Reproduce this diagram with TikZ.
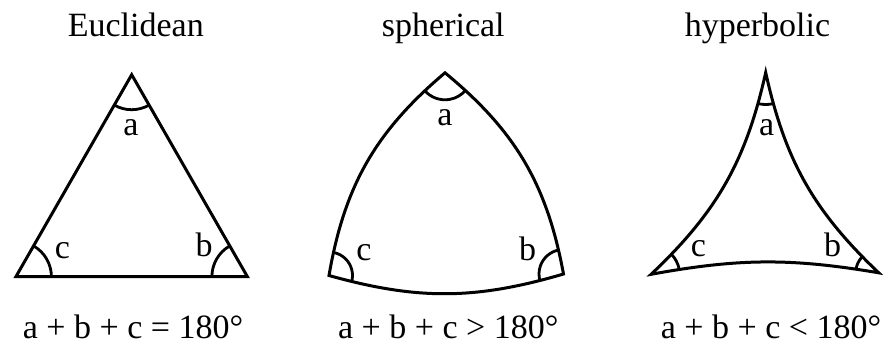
\documentclass[tikz,border=0pt]{standalone}
\usepackage{fontspec}
\setmainfont{Liberation Serif}
\begin{document}
\begin{tikzpicture}[x=1pt,y=1pt,
  edge/.style={line width=3pt, line join=miter},
  ang/.style={line width=2.8pt},
  lbl/.style={anchor=base, inner sep=0pt, font=\fontsize{34}{40}\selectfont}]
\useasboundingbox (0,0) rectangle (886,-346);

% titles
\node[lbl] (t1) at (135.8,-36) {Euclidean};
\node[lbl] (t2) at (443.3,-36) {spherical};
\node[lbl] (t3) at (757.5,-36) {hyperbolic};

% formulas
\node[lbl,text depth=0pt] (f1) at (133,-338) {a + b + c = 180°};
\node[lbl,text depth=0pt] (f2) at (448.3,-338) {a + b + c > 180°};
\node[lbl,text depth=0pt] (f3) at (771,-338) {a + b + c < 180°};

% Euclidean
\coordinate (EA) at (131.7,-74.7);
\coordinate (EL) at (15.9,-276.7);
\coordinate (ER) at (247.4,-276.7);
\draw[edge] (EA) -- (EL) -- (ER) -- cycle;
\draw[ang] ([shift={(240:35pt)}]EA) arc[start angle=240,end angle=300,radius=35pt];
\draw[ang] ([shift={(0:35.5pt)}]EL) arc[start angle=0,end angle=60,radius=35.5pt];
\draw[ang] ([shift={(120:35.5pt)}]ER) arc[start angle=120,end angle=180,radius=35.5pt];
\node[lbl] (ea) at (130.8,-135) {a};
\node[lbl] (ec) at (62.5,-258) {c};
\node[lbl] (eb) at (204,-256.7) {b};

% spherical
\coordinate (SA) at (445,-72.8);
\coordinate (SL) at (329,-275.5);
\coordinate (SR) at (563.5,-274);
\draw[edge] (SA) to[bend right=20] (SL) to[bend right=16] (SR) to[bend right=20] cycle;
\draw[ang] ([shift={(220.2:27pt)}]SA) arc[start angle=220.2,end angle=320.5,radius=27pt];
\draw[ang] ([shift={(-15.6:23.5pt)}]SL) arc[start angle=-15.6,end angle=80.2,radius=23.5pt];
\draw[ang] ([shift={(100.5:24.5pt)}]SR) arc[start angle=100.5,end angle=196.4,radius=24.5pt];
\node[lbl] (sa) at (445,-125) {a};
\node[lbl] (sc) at (364,-260) {c};
\node[lbl] (sb) at (527.5,-260) {b};

% hyperbolic
\coordinate (HA) at (765.7,-72.5);
\coordinate (HL) at (651.1,-274.3);
\coordinate (HR) at (878.7,-272.8);
\draw[edge] (HA) to[bend left=17] (HL) to[bend left=10] (HR) to[bend left=17] cycle;
\draw[ang] ([shift={(257.4:32pt)}]HA) arc[start angle=257.4,end angle=282.4,radius=32pt];
\draw[ang] ([shift={(10.4:28.5pt)}]HL) arc[start angle=10.4,end angle=43.4,radius=28.5pt];
\draw[ang] ([shift={(136.4:23pt)}]HR) arc[start angle=136.4,end angle=170.4,radius=23pt];
\node[lbl] (ha) at (766.7,-135) {a};
\node[lbl] (hc) at (698.3,-256.7) {c};
\node[lbl] (hb) at (832.5,-256.7) {b};
\end{tikzpicture}
\end{document}
